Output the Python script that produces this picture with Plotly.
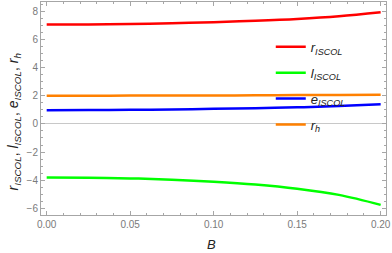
import plotly.graph_objects as go

B = [0.0, 0.025, 0.05, 0.075, 0.1, 0.125, 0.15, 0.175, 0.2]
r_isco = [7.06, 7.07, 7.10, 7.15, 7.23, 7.33, 7.46, 7.65, 7.93]
l_isco = [-3.80, -3.82, -3.87, -3.96, -4.10, -4.30, -4.60, -5.04, -5.75]
e_isco = [0.97, 0.98, 1.00, 1.03, 1.07, 1.12, 1.18, 1.27, 1.40]
r_h = [2.00, 2.00, 2.01, 2.01, 2.02, 2.03, 2.05, 2.06, 2.08]

names = ["<i>r</i><sub><i>ISCOL</i></sub>", "<i>l</i><sub><i>ISCOL</i></sub>",
         "<i>e</i><sub><i>ISCOL</i></sub>", "<i>r</i><sub><i>h</i></sub>"]
colors = ["rgb(255,0,0)", "rgb(0,255,0)", "rgb(0,0,255)", "rgb(255,128,0)"]
series = [r_isco, l_isco, e_isco, r_h]

fig = go.Figure()
for i, (ys, n, c) in enumerate(zip(series, names, colors)):
    fig.add_trace(go.Scatter(x=B, y=ys, name=n, mode="lines", legendgroup=f"g{i}",
                             line=dict(color=c, width=2.5, shape="spline")))

axcol = "#a6a6a6"
tickfont = dict(family="Liberation Sans, Arial", size=10, color="#7a7a7a")
fig.update_layout(
    width=392, height=253,
    margin=dict(l=41, r=4, t=1, b=38),
    paper_bgcolor="white", plot_bgcolor="white",
    font=dict(family="Liberation Sans, Arial", color="#333"),
    showlegend=True,
    legend=dict(x=0.666, y=0.86, xanchor="left", yanchor="top",
                bgcolor="rgba(0,0,0,0)", font=dict(size=13, color="#222"),
                tracegroupgap=6, itemwidth=30),
    xaxis=dict(range=[-0.0034, 0.2032], showgrid=False, zeroline=False,
               showline=True, linecolor=axcol, linewidth=1, mirror="ticks",
               ticks="inside", ticklen=4, tickcolor=axcol,
               tickvals=[0, 0.05, 0.1, 0.15, 0.2],
               ticktext=["0.00", "0.05", "0.10", "0.15", "0.20"],
               tickfont=tickfont, ticklabeloverflow="allow",
               minor=dict(dtick=0.01, tick0=0, ticks="inside", ticklen=2, tickcolor=axcol)),
    yaxis=dict(range=[-6.47, 8.66], showgrid=False,
               zeroline=True, zerolinecolor="#c8c8c8", zerolinewidth=1,
               showline=True, linecolor=axcol, linewidth=1, mirror="ticks",
               ticks="inside", ticklen=4, tickcolor=axcol,
               tickvals=[-6, -4, -2, 0, 2, 4, 6, 8],
               tickfont=tickfont,
               minor=dict(dtick=0.5, tick0=0, ticks="inside", ticklen=2, tickcolor=axcol)),
    annotations=[
        dict(text="<i>B</i>", xref="paper", yref="paper", x=0.494, y=-0.140,
             xanchor="center", yanchor="middle", showarrow=False,
             font=dict(size=13, color="#222")),
        dict(text="<i>r</i><sub><i>ISCOL</i></sub>, <i>l</i><sub><i>ISCOL</i></sub>, <i>e</i><sub><i>ISCOL</i></sub>, <i>r</i><sub><i>h</i></sub>",
             xref="paper", yref="paper", x=-0.078, y=0.435, textangle=-90,
             xanchor="center", yanchor="middle", showarrow=False,
             font=dict(size=14, color="#222")),
    ],
)

fig.write_html("out.html", config={"displayModeBar": False},
               post_script="document.body.style.margin='0px';")
